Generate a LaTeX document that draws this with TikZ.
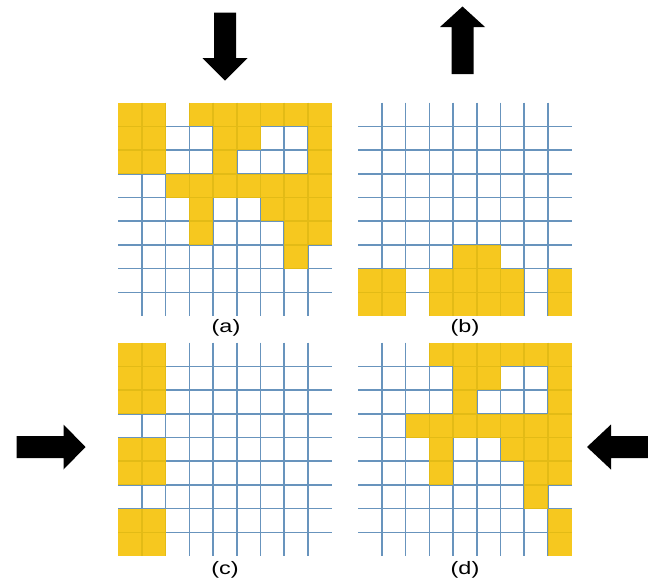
\documentclass[tikz,border=0pt]{standalone}
\usepackage{fontspec}
\setmainfont{Liberation Sans}
\definecolor{cellyellow}{HTML}{F5C100}
\definecolor{gridblue}{HTML}{6894BD}
\tikzset{
  cell/.style={fill=cellyellow, fill opacity=0.88},
  gridline/.style={draw=gridblue, line width=1.5pt},
  blockarrow/.style={fill=black},
  caption/.style={font=\fontsize{18}{21}\selectfont, inner sep=0pt, xscale=1.3}
}
\newcommand\mygrid[3]{%
  \begin{scope}[shift={(#1,#2)}]
    \foreach \k in {1,...,8} {
      \draw[gridline] (\k*23.7,0) -- (\k*23.7,213.3);
      \draw[gridline] (0,\k*23.7) -- (213.3,\k*23.7);
    }
    \foreach \c/\r in {#3} \fill[cell] (\c*23.7,\r*23.7) rectangle ++(23.7,23.7);
  \end{scope}}
\begin{document}
\begin{tikzpicture}[x=1pt,y=-1pt]
\useasboundingbox[fill=white] (0,0) rectangle (648,584);
% (a)
\mygrid{118.3}{102.7}{0/0,1/0,3/0,4/0,5/0,6/0,7/0,8/0,
  0/1,1/1,4/1,5/1,8/1,
  0/2,1/2,4/2,8/2,
  2/3,3/3,4/3,5/3,6/3,7/3,8/3,
  3/4,6/4,7/4,8/4,
  3/5,7/5,8/5,
  7/6}
% (b)
\mygrid{358.3}{102.7}{4/6,5/6,
  0/7,1/7,3/7,4/7,5/7,6/7,8/7,
  0/8,1/8,3/8,4/8,5/8,6/8,8/8}
% (c)
\mygrid{118.3}{342.7}{0/0,1/0,0/1,1/1,0/2,1/2,0/4,1/4,0/5,1/5,0/7,1/7,0/8,1/8}
% (d)
\mygrid{358.3}{342.7}{3/0,4/0,5/0,6/0,7/0,8/0,
  4/1,5/1,8/1,
  4/2,8/2,
  2/3,3/3,4/3,5/3,6/3,7/3,8/3,
  3/4,6/4,7/4,8/4,
  3/5,7/5,8/5,
  7/6,8/7,8/8}
% arrows
\fill[blockarrow] (214,12.5) -- (236,12.5) -- (236,58) -- (247.5,58) -- (225,80.5) -- (202.5,58) -- (214,58) -- cycle;
\fill[blockarrow] (451.5,74) -- (473.5,74) -- (473.5,27) -- (485,27) -- (462.5,6.5) -- (440,27) -- (451.5,27) -- cycle;
\fill[blockarrow] (16.5,436) -- (63.5,436) -- (63.5,424.5) -- (85.5,447) -- (63.5,469.5) -- (63.5,458) -- (16.5,458) -- cycle;
\fill[blockarrow] (648,436) -- (611,436) -- (611,424.5) -- (587,447) -- (611,469.5) -- (611,458) -- (648,458) -- cycle;
% captions
\node[caption] (capa) at (226,328) {(a)};
\node[caption] (capb) at (465,328) {(b)};
\node[caption] (capc) at (225,570) {(c)};
\node[caption] (capd) at (465,570) {(d)};
\end{tikzpicture}
\end{document}
